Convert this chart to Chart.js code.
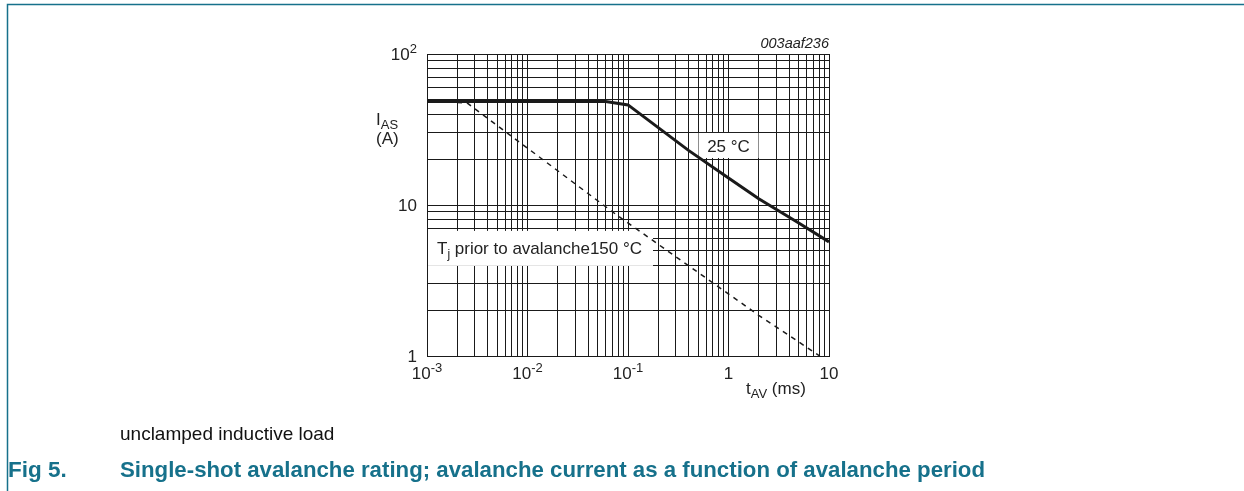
<!DOCTYPE html>
<html>
<head>
<meta charset="utf-8">
<script src="https://cdn.jsdelivr.net/npm/chart.js@4"></script>
<style>
  body { margin: 0; background: #fff; }
  #wrap { position: relative; width: 1244px; height: 491px; }
</style>
</head>
<body>
<div id="wrap"><canvas id="chart"></canvas></div>
<script>
// avalanche period (ms) vs avalanche current (A)
const tAV25 = [0.001, 0.06, 0.1, 0.4, 1, 2, 5, 10];
const iAS25 = [48.5, 48.5, 46, 23, 15.1, 11, 7.6, 5.7];
const tAV150 = [0.001, 0.0025, 0.077, 2, 8.1];
const iAS150 = [48.5, 47.5, 8.6, 1.86, 1];

// axis tick labels: mantissa + exponent
const xTickLabels = [
  { v: 0.001, base: '10', exp: '-3' },
  { v: 0.01, base: '10', exp: '-2' },
  { v: 0.1, base: '10', exp: '-1' },
  { v: 1, base: '1', exp: '' },
  { v: 10, base: '10', exp: '' }
];
const yTickLabels = [
  { v: 1, base: '1', exp: '' },
  { v: 10, base: '10', exp: '' },
  { v: 100, base: '10', exp: '2' }
];

const FONT = '"Liberation Sans", Arial, sans-serif';
const TEAL = '#16718b';

// 1..9 per decade for the log grid
function logGrid(min, max) {
  const out = [];
  for (let d = min; d < max; d *= 10) {
    for (let m = 1; m < 10; m++) out.push(+(m * d).toPrecision(3));
  }
  out.push(max);
  return out;
}

function toPoints(xs, ys) {
  return xs.map((x, i) => ({ x: x, y: ys[i] }));
}

// draws "base" with a raised exponent, right/center aligned at x
function drawPow(ctx, base, exp, x, y, align) {
  ctx.font = '17px ' + FONT;
  const wb = ctx.measureText(base).width;
  ctx.font = '13px ' + FONT;
  const we = exp ? ctx.measureText(exp).width : 0;
  let left = x;
  if (align === 'right') left = x - wb - we;
  if (align === 'center') left = x - (wb + we) / 2;
  ctx.textAlign = 'left';
  ctx.textBaseline = 'alphabetic';
  ctx.font = '17px ' + FONT;
  ctx.fillText(base, left, y);
  if (exp) {
    ctx.font = '13px ' + FONT;
    ctx.fillText(exp, left + wb, y - 7);
  }
}

const boxes = {
  id: 'boxes',
  beforeDatasetsDraw(chart) {
    const { ctx, chartArea } = chart;
    const xs = chart.scales.x, ys = chart.scales.y;
    ctx.save();
    ctx.fillStyle = '#fff';
    // 25 °C label box
    const cx = xs.getPixelForValue(1), cy = ys.getPixelForValue(24.6);
    ctx.fillRect(cx - 30, cy - 13, 60, 25);
    // Tj label box
    const ty = ys.getPixelForValue(5.2);
    ctx.fillRect(chartArea.left + 1, ty - 17, 225, 35);
    ctx.restore();
  },
  afterDraw(chart) {
    const { ctx, chartArea } = chart;
    const xs = chart.scales.x, ys = chart.scales.y;
    ctx.save();
    ctx.fillStyle = '#222';

    xTickLabels.forEach(t => {
      drawPow(ctx, t.base, t.exp, xs.getPixelForValue(t.v), 379, 'center');
    });
    yTickLabels.forEach(t => {
      drawPow(ctx, t.base, t.exp, 417, ys.getPixelForValue(t.v) + 6, 'right');
    });

    // y axis title
    ctx.textAlign = 'left';
    ctx.font = '17px ' + FONT;
    ctx.fillText('I', 376, 125);
    let w = ctx.measureText('I').width;
    ctx.font = '13px ' + FONT;
    ctx.fillText('AS', 376 + w, 129);
    ctx.font = '17px ' + FONT;
    ctx.fillText('(A)', 376, 144);

    // x axis title
    ctx.font = '17px ' + FONT;
    ctx.fillText('t', 746, 394);
    w = ctx.measureText('t').width;
    ctx.font = '13px ' + FONT;
    ctx.fillText('AV', 746 + w, 398);
    const w2 = ctx.measureText('AV').width;
    ctx.font = '17px ' + FONT;
    ctx.fillText(' (ms)', 746 + w + w2, 394);

    // curve labels
    ctx.font = '17px ' + FONT;
    ctx.textAlign = 'center';
    ctx.fillText('25 °C', xs.getPixelForValue(1), ys.getPixelForValue(24.6) + 6);
    ctx.textAlign = 'left';
    const ty = ys.getPixelForValue(5.2) + 6;
    ctx.fillText('T', 437, ty);
    w = ctx.measureText('T').width;
    ctx.font = '12px ' + FONT;
    ctx.fillText('j', 437 + w, ty + 4);
    const wj = ctx.measureText('j').width;
    ctx.font = '17px ' + FONT;
    ctx.fillText(' prior to avalanche150 °C', 437 + w + wj, ty);

    // figure id
    ctx.font = 'italic 14.5px ' + FONT;
    ctx.textAlign = 'right';
    ctx.fillText('003aaf236', chartArea.right, 48);

    // caption
    ctx.textAlign = 'left';
    ctx.fillStyle = '#111';
    ctx.font = '19px ' + FONT;
    ctx.fillText('unclamped inductive load', 120, 440, 215);
    ctx.fillStyle = TEAL;
    ctx.font = 'bold 22.5px ' + FONT;
    ctx.fillText('Fig 5.', 8, 477, 63);
    ctx.fillText('Single-shot avalanche rating; avalanche current as a function of avalanche period', 120, 477, 865);

    // page frame
    ctx.strokeStyle = TEAL;
    ctx.lineWidth = 1.5;
    ctx.beginPath();
    ctx.moveTo(1244, 4.5);
    ctx.lineTo(7.5, 4.5);
    ctx.lineTo(7.5, 491);
    ctx.stroke();
    ctx.restore();
  }
};

const config = {
  type: 'line',
  data: {
    datasets: [
      {
        label: '25 °C',
        data: toPoints(tAV25, iAS25),
        borderColor: '#1a1a1a',
        borderWidth: 3,
        pointRadius: 0,
        order: 0
      },
      {
        label: '150 °C',
        data: toPoints(tAV150, iAS150),
        borderColor: '#1a1a1a',
        borderWidth: 1.5,
        borderDash: [5, 5],
        pointRadius: 0,
        order: 1
      }
    ]
  },
  options: {
    responsive: true,
    maintainAspectRatio: false,
    animation: false,
    layout: { padding: { left: 427, top: 54, right: 415, bottom: 135 } },
    plugins: { legend: { display: false }, tooltip: { enabled: false } },
    scales: {
      x: {
        type: 'logarithmic',
        min: 0.001,
        max: 10,
        afterBuildTicks: s => { s.ticks = logGrid(0.001, 10).map(v => ({ value: v })); },
        ticks: { display: false },
        grid: { color: '#1a1a1a', lineWidth: 1, drawTicks: false },
        border: { color: '#1a1a1a', width: 1 }
      },
      y: {
        type: 'logarithmic',
        min: 1,
        max: 100,
        afterBuildTicks: s => { s.ticks = logGrid(1, 100).map(v => ({ value: v })); },
        ticks: { display: false },
        grid: { color: '#1a1a1a', lineWidth: 1, drawTicks: false },
        border: { color: '#1a1a1a', width: 1 }
      }
    }
  },
  plugins: [boxes]
};

const myChart = new Chart(document.getElementById('chart'), config);
</script>
</body>
</html>
